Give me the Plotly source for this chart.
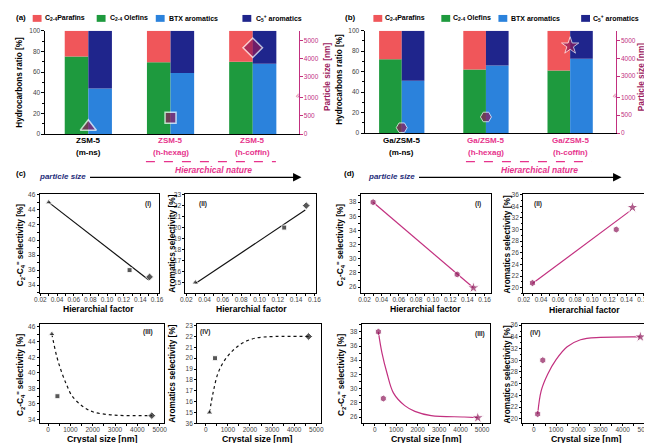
import plotly.graph_objects as go

W, H = 652, 443
FONT = "Liberation Sans, Arial, sans-serif"


def px(x):
    return x / W


def py(y):
    return 1 - y / H


# ---------------- data ----------------
samples = ["(m-ns)", "(h-hexag)", "(h-coffin)"]
zeolite_a = "ZSM-5"
zeolite_b = "Ga/ZSM-5"
legend_names = ["C<sub>2-4</sub>Parafins", "C<sub>2-4</sub> Olefins", "BTX aromatics", "C<sub>5</sub><sup>+</sup> aromatics"]

olefins_a = [75, 69.5, 70]
paraffins_a = [25, 30.5, 30]
btx_a = [44, 59, 68]
c5_a = [56, 41, 32]
size_a = [200, 450, 4600]

olefins_b = [72, 62, 61]
paraffins_b = [28, 38, 39]
btx_b = [51, 66, 72.5]
c5_b = [49, 34, 27.5]
size_b = [150, 450, 4700]

size_ticks = [0, 500, 1000, 3000, 4000, 5000]

# (c) ZSM-5 series
hf_c = [0.030, 0.127, 0.151]
c24_c = [45.0, 36.0, 35.1]
arom_c = [15.0, 20.0, 22.0]
fit_hf_c = [0.030, 0.150]
fit_c24_c = [45.0, 34.7]
fit_arom_c = [14.9, 21.6]
cs_c = [170, 420, 4650]
cs_c24_c = [45.0, 37.0, 34.5]
cs_arom_c = [15.0, 20.0, 22.0]
curve_x_c24_c = [170, 400, 620, 840, 1060, 1500, 2000, 2800, 3600, 4650]
curve_y_c24_c = [45.0, 42.0, 40.0, 38.4, 37.1, 35.8, 35.0, 34.6, 34.5, 34.5]
curve_x_arom_c = [170, 330, 550, 850, 1220, 1660, 2250, 3150, 4650]
curve_y_arom_c = [15.0, 16.8, 18.6, 19.8, 20.7, 21.4, 21.85, 22.0, 22.0]

# (d) Ga/ZSM-5 series
hf_d = [0.030, 0.128, 0.147]
c24_d = [38.0, 27.8, 25.9]
arom_d = [20.8, 30.0, 33.8]
fit_hf_d1 = [0.030, 0.147]
fit_c24_d = [38.0, 25.9]
fit_hf_d2 = [0.030, 0.145]
fit_arom_d = [20.7, 33.3]
cs_d = [170, 400, 4800]
cs_c24_d = [38.0, 28.6, 25.9]
cs_arom_d = [20.8, 30.0, 34.0]
curve_x_c24_d = [170, 340, 570, 870, 1400, 1870, 2630, 4160, 4800]
curve_y_c24_d = [38.0, 35.0, 32.2, 29.4, 27.6, 26.8, 26.2, 26.0, 25.9]
curve_x_arom_d = [170, 330, 620, 1000, 1500, 2100, 3000, 4800]
curve_y_arom_d = [20.8, 24.8, 27.6, 30.1, 32.3, 33.5, 33.9, 34.0]

# ---------------- styles ----------------
RED = "#F0565A"
GREEN = "#1E9A3E"
BLUE = "#2B82DC"
NAVY = "#1F258C"
MAROON = "#8E1A5B"
MAG = "#C2307F"
PINK = "#E6338C"
NAVYTXT = "#1F2D7A"
TICKC = "#444444"


def brk(v):
    # broken right axis: 0-1000 lower segment, 2000+ upper segment
    return v * 0.11 if v <= 1000 else 120 + (v - 2000) * 0.055


fig = go.Figure()
idx = [0, 1, 2]


def bar_panel(xa, ya, ya2, ol, pa, bt, c5, sizes, w, symbols, msizes, lw):
    fig.add_trace(go.Bar(x=idx, y=ol, base=[0, 0, 0], width=w, offset=-w, marker=dict(color=GREEN, line=dict(width=0)),
                         xaxis=xa, yaxis=ya, showlegend=False))
    fig.add_trace(go.Bar(x=idx, y=pa, base=ol, width=w, offset=-w, marker=dict(color=RED, line=dict(width=0)),
                         xaxis=xa, yaxis=ya, showlegend=False))
    fig.add_trace(go.Bar(x=idx, y=bt, base=[0, 0, 0], width=w, offset=0, marker=dict(color=BLUE, line=dict(width=0)),
                         xaxis=xa, yaxis=ya, showlegend=False))
    fig.add_trace(go.Bar(x=idx, y=c5, base=bt, width=w, offset=0, marker=dict(color=NAVY, line=dict(width=0)),
                         xaxis=xa, yaxis=ya, showlegend=False))
    fig.add_trace(go.Scatter(x=idx, y=[brk(s) for s in sizes], mode="markers",
                             marker=dict(symbol=symbols, size=msizes, color=MAROON, line=dict(color="white", width=lw)),
                             xaxis=xa, yaxis=ya2, showlegend=False))


bar_panel("x", "y", "y2", olefins_a, paraffins_a, btx_a, c5_a, size_a, 0.287,
          ["triangle-up", "square", "diamond"], [14, 11, 15], 1.5)
bar_panel("x2", "y3", "y4", olefins_b, paraffins_b, btx_b, c5_b, size_b, 0.269,
          ["hexagon2", "hexagon2", "star"], [11, 11, 13], 1)

BLACK_SYMS = ["triangle-up", "square", "diamond"]
D_SYMS = ["hexagon", "hexagon", "star"]


def scatter_panel(xa, ya, xs, ys, fx, fy, dash, syms, col, lcol, msz):
    fig.add_trace(go.Scatter(x=fx, y=fy, mode="lines", line=dict(color=lcol, width=1.2, dash=dash, shape="spline"),
                             xaxis=xa, yaxis=ya, showlegend=False))
    fig.add_trace(go.Scatter(x=xs, y=ys, mode="markers", marker=dict(symbol=syms, size=msz, color=col),
                             xaxis=xa, yaxis=ya, showlegend=False))


BLK = "#111111"
scatter_panel("x3", "y5", hf_c, c24_c, fit_hf_c, fit_c24_c, "solid", BLACK_SYMS, BLK, BLK, [6, 5, 6])
scatter_panel("x4", "y6", hf_c, arom_c, fit_hf_c, fit_arom_c, "solid", BLACK_SYMS, BLK, BLK, [6, 5, 6])
scatter_panel("x5", "y7", cs_c, cs_c24_c, curve_x_c24_c, curve_y_c24_c, "dot", BLACK_SYMS, BLK, BLK, [6, 5, 6])
scatter_panel("x6", "y8", cs_c, cs_arom_c, curve_x_arom_c, curve_y_arom_c, "dot", BLACK_SYMS, BLK, BLK, [6, 5, 6])
scatter_panel("x7", "y9", hf_d, c24_d, fit_hf_d1, fit_c24_d, "solid", D_SYMS, MAROON, MAG, [7, 7, 9])
scatter_panel("x8", "y10", hf_d, arom_d, fit_hf_d2, fit_arom_d, "solid", D_SYMS, MAROON, MAG, [7, 7, 9])
scatter_panel("x9", "y11", cs_d, cs_c24_d, curve_x_c24_d, curve_y_c24_d, "solid", D_SYMS, MAROON, MAG, [7, 7, 9])
scatter_panel("x10", "y12", cs_d, cs_arom_d, curve_x_arom_d, curve_y_arom_d, "solid", D_SYMS, MAROON, MAG, [7, 7, 9])

# ---------------- axes ----------------
tickfont = dict(family=FONT, size=6.5, color=TICKC)


def box_axis(domain, rng, anchor, **kw):
    d = dict(domain=domain, range=rng, anchor=anchor, showline=True, linecolor="black", linewidth=1, mirror=True,
             ticks="outside", ticklen=2, tickwidth=1, tickcolor="black", showgrid=False, zeroline=False,
             tickfont=tickfont, ticklabeloverflow="allow")
    d.update(kw)
    return d


lay = {}
# (a)
lay["xaxis"] = dict(domain=[px(33), px(290)], range=[-0.521, 2.557], anchor="y", showline=True, linecolor="black",
                    linewidth=1, showticklabels=False, ticks="", showgrid=False, zeroline=False)
lay["yaxis"] = dict(domain=[py(124), py(19)], range=[0, 100], anchor="x", showline=True, linecolor="black",
                    linewidth=1, ticks="outside", ticklen=3, tickcolor="black", dtick=20, showgrid=False,
                    zeroline=False, tickfont=tickfont, minor=dict(ticks="outside", ticklen=2, dtick=10))
lay["yaxis2"] = dict(overlaying="y", side="right", anchor="x", range=[0, 315], showline=True, linecolor=MAG,
                     linewidth=1, ticks="outside", ticklen=3, tickcolor=MAG, showgrid=False, zeroline=False,
                     tickvals=[brk(v) for v in size_ticks], ticktext=[str(v) for v in size_ticks],
                     tickfont=dict(family=FONT, size=6.5, color=MAG))
# (b)
lay["xaxis2"] = dict(domain=[px(357), px(612)], range=[-0.442, 2.540], anchor="y3", showline=True, linecolor="black",
                     linewidth=1, showticklabels=False, ticks="", showgrid=False, zeroline=False)
lay["yaxis3"] = dict(domain=[py(123), py(19)], range=[0, 100], anchor="x2", showline=True, linecolor="black",
                     linewidth=1, ticks="outside", ticklen=3, tickcolor="black", dtick=20, showgrid=False,
                     zeroline=False, tickfont=tickfont, minor=dict(ticks="outside", ticklen=2, dtick=10))
lay["yaxis4"] = dict(overlaying="y3", side="right", anchor="x2", range=[0, 315], showline=True, linecolor=MAG,
                     linewidth=1, ticks="outside", ticklen=3, tickcolor=MAG, showgrid=False, zeroline=False,
                     tickvals=[brk(v) for v in size_ticks], ticktext=[str(v) for v in size_ticks],
                     tickfont=dict(family=FONT, size=6.5, color=MAG))

hf_kw = dict(tickvals=[0.02, 0.04, 0.06, 0.08, 0.10, 0.12, 0.14, 0.16], tickformat=".2f",
             minor=dict(ticks="outside", ticklen=1.5, dtick=0.01), ticklabelstandoff=-2)
cs_kw = dict(tickvals=[0, 1000, 2000, 3000, 4000, 5000], minor=dict(ticks="outside", ticklen=1.5, dtick=500),
             ticklabelstandoff=-2)
y_minor = dict(ticks="outside", ticklen=1.5, dtick=1)

# (c)
lay["xaxis3"] = box_axis([px(27), px(148)], [0.019, 0.162], "y5", **hf_kw)
lay["yaxis5"] = box_axis([py(286), py(185)], [32.9, 46.1], "x3", tickvals=[34, 36, 38, 40, 42, 44, 46], minor=y_minor)
lay["xaxis4"] = box_axis([px(175), px(308)], [0.019, 0.162], "y6", **hf_kw)
lay["yaxis6"] = box_axis([py(286), py(185)], [14, 23.05], "x4", tickvals=list(range(15, 24)))
lay["xaxis5"] = box_axis([px(27), px(153)], [-380, 5180], "y7", **cs_kw)
lay["yaxis7"] = box_axis([py(418), py(317)], [33.5, 46.3], "x5", tickvals=[34, 36, 38, 40, 42, 44, 46], minor=y_minor)
lay["xaxis6"] = box_axis([px(187), px(313)], [-390, 5220], "y8", **cs_kw)
lay["yaxis8"] = box_axis([py(418), py(317)], [14, 23.15], "x6", tickvals=list(range(14, 24)),
                         ticktext=["36"] + [str(v) for v in range(15, 24)])
# (d)
lay["xaxis7"] = box_axis([px(353), px(485)], [0.0154, 0.167], "y9", **hf_kw)
lay["yaxis9"] = box_axis([py(286), py(185)], [25.1, 39.15], "x7", tickvals=[26, 28, 30, 32, 34, 36, 38], minor=y_minor)
lay["xaxis8"] = box_axis([px(518), px(643)], [0.019, 0.163], "y10", **hf_kw)
lay["yaxis10"] = box_axis([py(286), py(185)], [19, 36.1], "x8", tickvals=list(range(20, 37, 2)), minor=y_minor)
lay["xaxis9"] = box_axis([px(354), px(484)], [-612, 5350], "y11", **cs_kw)
lay["yaxis11"] = box_axis([py(418), py(317)], [25.1, 39.1], "x9", tickvals=[26, 28, 30, 32, 34, 36, 38], minor=y_minor)
lay["xaxis10"] = box_axis([px(517), px(646)], [-534, 5193], "y12", **cs_kw)
lay["yaxis12"] = box_axis([py(418), py(317)], [19.2, 36.2], "x10", tickvals=list(range(20, 37, 2)), minor=y_minor)

# ---------------- annotations & shapes ----------------
ann = []
shapes = []


def text(x, y, t, size=8, color="black", bold=True, italic=False, angle=0, xanchor="center", yanchor="middle"):
    s = t
    if italic:
        s = "<i>" + s + "</i>"
    if bold:
        s = "<b>" + s + "</b>"
    ann.append(dict(x=px(x), y=py(y), xref="paper", yref="paper", text=s, showarrow=False, textangle=angle,
                    font=dict(family=FONT, size=size, color=color), xanchor=xanchor, yanchor=yanchor, borderpad=0))


# panel letters
text(8, 6, "(a)", 8)
text(343, 6, "(b)", 8)
text(8, 164, "(c)", 8)
text(342, 164, "(d)", 8)

# legends
legend_colors = [RED, GREEN, BLUE, NAVY]
for sw_x, tx_x in [([20, 85, 145, 233], [31, 97, 157, 246]), ([366, 435, 493, 577], [377, 446, 505, 588])]:
    for c, sx, tx, nm in zip(legend_colors, sw_x, tx_x, legend_names):
        shapes.append(dict(type="rect", xref="paper", yref="paper", x0=px(sx), x1=px(sx + 9), y0=py(10), y1=py(3),
                           fillcolor=c, line=dict(width=0)))
        text(tx, 6.5, nm, 7, xanchor="left")

# category labels
centers_a = [76.5, 160, 243.5]
centers_b = [394.8, 480.3, 565.8]
for i, (ca, cb) in enumerate(zip(centers_a, centers_b)):
    col = "black" if i == 0 else PINK
    text(ca, 131, zeolite_a, 8, col)
    text(ca, 143, samples[i], 8, col)
    text(cb, 131, zeolite_b, 8, col)
    text(cb, 143, samples[i], 8, col)

# y titles of bar panels
text(7, 71, "Hydrocarbons ratio [%]", 8.2, angle=-90)
text(319, 66, "Particle size [nm]", 8.3, "#9C1A5E", angle=-90)
text(332, 68, "Hydrocarbons ratio [%]", 8.2, angle=-90)
text(638, 66, "Particle size [nm]", 8.3, "#9C1A5E", angle=-90)
# break marks on right axes
text(290, 85, "≈", 8, MAG, bold=False, angle=-60)
text(612, 85, "≈", 8, MAG, bold=False, angle=-60)

# hierarchical nature / particle size
for (x0, x1, hx, ps_x, ax0, ax1) in [(135, 267, 204, 50, 80, 293), (460, 588, 535, 384, 414, 618)]:
    shapes.append(dict(type="line", xref="paper", yref="paper", x0=px(x0), x1=px(x1), y0=py(152), y1=py(152),
                       line=dict(color=PINK, width=1.2, dash="dash")))
    text(hx, 161, "Hierarchical nature", 8.5, PINK, italic=True)
    text(ps_x, 167, "particle size", 8, NAVYTXT, italic=True)
    ann.append(dict(x=px(ax1), y=py(168), xref="paper", yref="paper", ax=-(ax1 - ax0), ay=0, text="",
                    showarrow=True, arrowhead=2, arrowsize=1.3, arrowwidth=1.3, arrowcolor="black"))

C24 = "C<sub>2</sub>-C<sub>4</sub><sup>=</sup> selectivity [%]"
AR = "Aromatics selectivity [%]"
# y titles lower panels
text(7, 236, C24, 8.3, angle=-90)
text(162, 236, AR, 8.3, angle=-90)
text(7, 368, C24, 8.3, angle=-90)
text(162, 368, AR, 8.3, angle=-90)
text(332, 236, C24, 8.3, angle=-90)
text(502, 236, AR, 8.3, angle=-90)
text(333, 368, C24, 8.3, angle=-90)
text(502, 368, AR, 8.3, angle=-90)
# x titles
text(87, 302, "Hierarchial factor", 8.6)
text(242, 302, "Hierarchial factor", 8.6)
text(90, 434, "Crystal size [nm]", 8.8)
text(248, 434, "Crystal size [nm]", 8.8)
text(419, 302, "Hierarchial factor", 8.6)
text(580, 303, "Hierarchial factor", 8.6)
text(419, 434, "Crystal size [nm]", 8.8)
text(582, 434, "Crystal size [nm]", 8.8)
# roman labels
for (rx, ry, rt) in [(137, 195, "(I)"), (193, 195, "(II)"), (137, 325, "(III)"), (195, 325, "(IV)"),
                     (472, 195, "(I)"), (533, 195, "(II)"), (474, 327, "(III)"), (530, 326, "(IV)")]:
    text(rx, ry, rt, 6.5, "#222222")

fig.update_layout(width=W, height=H, autosize=False, margin=dict(l=0, r=0, t=0, b=0),
                  paper_bgcolor="white", plot_bgcolor="rgba(0,0,0,0)", barmode="overlay",
                  annotations=ann, shapes=shapes, font=dict(family=FONT), **lay)
fig.write_html("out.html")
